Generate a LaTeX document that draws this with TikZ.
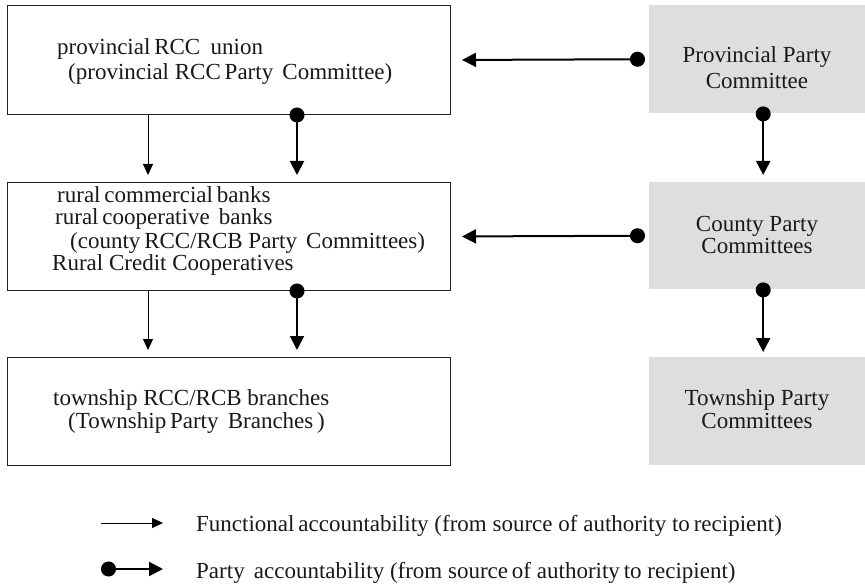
\documentclass[tikz,border=0pt]{standalone}
\usepackage{fontspec}
\setmainfont{Liberation Serif}
\usetikzlibrary{arrows.meta}
\definecolor{boxgray}{RGB}{222,222,222}
\definecolor{edgecol}{RGB}{35,35,35}
\begin{document}
\begin{tikzpicture}[x=1pt,y=-1pt,
  txt/.style={inner sep=0pt, anchor=base west, font=\fontsize{23}{25}\selectfont, text=black!90},
  ctxt/.style={txt, anchor=base},
  wbox/.style={draw=edgecol, line width=1pt, fill=white, rectangle, inner sep=0pt, anchor=north west, minimum width=443pt},
  gbox/.style={draw=none, fill=boxgray, rectangle, inner sep=0pt, anchor=north west, minimum width=216pt},
  func/.style={line width=1pt, -{Triangle[length=11pt,width=10pt]}, shorten >=7pt},
  party/.style={line width=2pt, {Circle[length=15pt]}-{Triangle[length=14pt,width=14pt]}, shorten >=7pt, shorten <=-7.5pt}
]
\useasboundingbox (0,0) rectangle (865,588);

% boxes
\node[wbox, minimum height=109pt] (b1) at (7,5) {};
\node[wbox, minimum height=108pt] (b2) at (7,182) {};
\node[wbox, minimum height=108pt] (b3) at (7,357) {};
\node[gbox, minimum height=108pt] (g1) at (649,5) {};
\node[gbox, minimum height=107pt] (g2) at (649,182) {};
\node[gbox, minimum height=108pt] (g3) at (649,357) {};

% texts in left boxes
\node[txt] (t1a) at (57,55) {provincial\,RCC\hspace{.45em}union};
\node[txt] (t1b) at (68,80) {(provincial RCC\,Party\hspace{.4em}Committee)};
\node[txt] (t2a) at (57,203) {rural\,commercial\,banks};
\node[txt] (t2b) at (55,225) {rural\,cooperative\hspace{.4em}banks};
\node[txt] (t2c) at (70,248) {(county\,RCC/RCB Party\hspace{.4em}Committees)};
\node[txt] (t2d) at (52,270) {Rural Credit Cooperatives};
\node[txt] (t3a) at (53,405) {township RCC/RCB branches};
\node[txt] (t3b) at (68,428) {(Township\,Party\hspace{.4em}Branches\,)};

% texts in grey boxes
\node[ctxt] (u1a) at (757,63) {Provincial Party};
\node[ctxt] (u1b) at (757,89) {Committee};
\node[ctxt] (u2a) at (757,232) {County Party};
\node[ctxt] (u2b) at (757,254) {Committees};
\node[ctxt] (u3a) at (757,405) {Township Party};
\node[ctxt] (u3b) at (757,428) {Committees};

% functional accountability (left)
\draw[func] ([xshift=141pt]b1.south west) -- ([xshift=141pt]b2.north west);
\draw[func] ([xshift=141pt]b2.south west) -- ([xshift=141pt]b3.north west);
% party accountability (left)
\draw[party] ([xshift=290pt]b1.south west) -- ([xshift=290pt]b2.north west);
\draw[party] ([xshift=290pt]b2.south west) -- ([xshift=290pt]b3.north west);
% horizontal party links
\draw[party, shorten <=4pt, shorten >=11pt] (g1.west) -- (b1.east);
\draw[party, shorten <=4pt, shorten >=11pt] (g2.west) -- (b2.east);
% right column
\draw[party, shorten <=-7pt] ([xshift=6pt]g1.south) -- ([xshift=6pt]g2.north);
\draw[party, shorten <=-7pt, shorten >=5pt] ([xshift=6pt]g2.south) -- ([xshift=6pt]g3.north);

% legend
\coordinate (la1) at (101,523);
\coordinate (la2) at (163,523);
\coordinate (lb1) at (101,569);
\coordinate (lb2) at (163,569);
\draw[func, shorten >=0pt] (la1) -- (la2);
\draw[party, shorten >=0pt, shorten <=0pt] (lb1) -- (lb2);
\node[txt] (lg1) at (196,531) {Functional\,accountability (from source of authority to\,recipient)};
\node[txt] (lg2) at (196,578) {Party\hspace{.4em}accountability (from source\,of authority\,to recipient)};
\end{tikzpicture}
\end{document}
